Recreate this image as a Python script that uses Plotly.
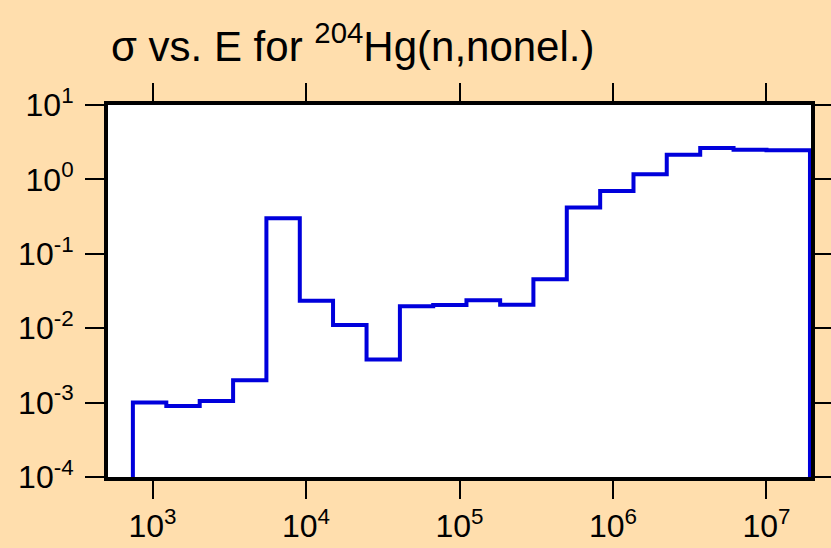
import numpy as np
import plotly.graph_objects as go

# Bin edges (eV) and cross sections (b)
energy_edges = [745, 1230, 2030, 3350, 5520, 9110, 15000, 24800, 40900, 67400,
                111000, 184000, 303000, 500000, 825000, 1.36e6, 2.24e6, 3.7e6,
                6.1e6, 1.0e7, 1.92e7]
sigma_values = [1.0e-3, 9.0e-4, 1.05e-3, 2.0e-3, 0.30, 0.0233, 0.011, 0.0038,
                0.0198, 0.0205, 0.0238, 0.0207, 0.0454, 0.418, 0.698, 1.17,
                2.15, 2.64, 2.51, 2.46]
y_floor = 1e-4

x_tickvals = [1e3, 1e4, 1e5, 1e6, 1e7]
x_ticktext = ["10<sup>3</sup>", "10<sup>4</sup>", "10<sup>5</sup>", "10<sup>6</sup>", "10<sup>7</sup>"]
y_tickvals = [1e-4, 1e-3, 1e-2, 1e-1, 1e0, 1e1]
y_ticktext = ["10<sup>-4</sup>", "10<sup>-3</sup>", "10<sup>-2</sup>", "10<sup>-1</sup>",
              "10<sup>0</sup>", "10<sup>1</sup>"]

# build step outline
xs = [energy_edges[0]]
ys = [y_floor]
for i, v in enumerate(sigma_values):
    xs += [energy_edges[i], energy_edges[i + 1]]
    ys += [v, v]
xs.append(energy_edges[-1])
ys.append(y_floor)

fig = go.Figure()
fig.add_trace(go.Scatter(x=xs, y=ys, mode="lines",
                         line=dict(color="#0000dc", width=4),
                         hoverinfo="skip", showlegend=False))

font = dict(family="Liberation Sans, Arial, sans-serif", color="black")
fig.update_layout(
    width=831, height=548,
    paper_bgcolor="#FFDEAD", plot_bgcolor="white",
    margin=dict(l=108, r=20, t=105, b=71, autoexpand=False),
    title=dict(text="σ vs. E for <sup>204</sup>Hg(n,nonel.)",
               font=dict(size=42, **font), x=111 / 831, xanchor="left",
               y=1 - 46 / 548, yanchor="middle"),
    font=dict(size=32, **font),
)
fig.update_xaxes(type="log", range=[2.71, 7.29],
                 tickvals=x_tickvals, ticktext=x_ticktext,
                 showline=True, linecolor="black", linewidth=4, mirror="ticks",
                 ticks="outside", ticklen=18, tickwidth=2, tickcolor="black",
                 showgrid=False, zeroline=False, tickfont=dict(size=32, **font))
fig.update_yaxes(type="log", range=[-4, 1],
                 tickvals=y_tickvals, ticktext=y_ticktext,
                 showline=True, linecolor="black", linewidth=4, mirror="ticks",
                 ticks="outside", ticklen=19, tickwidth=2, tickcolor="black",
                 ticklabelstandoff=5,
                 showgrid=False, zeroline=False, tickfont=dict(size=32, **font))

fig.write_html("out.html", config={"displayModeBar": False},
               post_script="document.body.style.margin='0px';")
